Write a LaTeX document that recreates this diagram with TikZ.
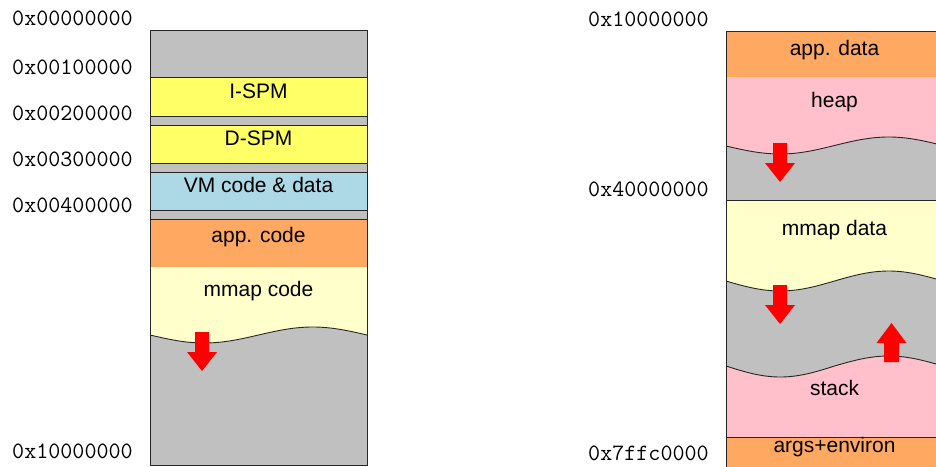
\documentclass[tikz,border=0pt]{standalone}
\usepackage{fontspec}
\setmainfont{Liberation Sans}
\usetikzlibrary{positioning}

\definecolor{freegray}{HTML}{C0C0C0}
\definecolor{spmyellow}{HTML}{FFFF66}
\definecolor{vmblue}{HTML}{ADD8E6}
\definecolor{apporange}{HTML}{FFA862}
\definecolor{mmapyellow}{HTML}{FFFFCC}
\definecolor{heappink}{HTML}{FFC0CB}

\tikzset{
  grow down/.pic = {\fill[red] (-7,0) -- (7,0) -- (7,20) -- (15,20) -- (0,39) -- (-15,20) -- (-7,20) -- cycle;},
  grow up/.pic = {\fill[red] (-7.5,0) -- (7.5,0) -- (7.5,-19) -- (15,-19) -- (0,-39) -- (-15,-19) -- (-7.5,-19) -- cycle;}
}

\begin{document}
\begin{tikzpicture}[x=1pt, y=-1pt,
    band/.style = {draw=black!85, line width=0.9pt},
    lbl/.style = {anchor=base, inner sep=0pt, font=\fontsize{21}{25}\selectfont},
    addr/.style = {anchor=base west, inner sep=0pt, font=\ttfamily\fontsize{23.4}{27}\selectfont}]
    \useasboundingbox (0,0) rectangle (936,466);
    \clip (0,0) rectangle (936,466);

    % code side
    \fill[freegray] (150,30) rectangle (367,465);
    \draw[band, fill=spmyellow] (150,77) rectangle (367,116);
    \draw[band, fill=spmyellow] (150,125) rectangle (367,163);
    \draw[band, fill=vmblue] (150,172) rectangle (367,210);
    \draw[band, fill=apporange] (150,219) rectangle (367,267);
    \fill[mmapyellow] (150,267) -- (150,335) sin (204.25,343) cos (258.5,335) sin (312.75,327) cos (367,335) -- (367,267) -- cycle;
    \draw[band] (150,335) sin (204.25,343) cos (258.5,335) sin (312.75,327) cos (367,335);
    \draw[band] (150,30) rectangle (367,465);
    \pic (codegrow) at (202,332) {grow down};

    \node[lbl] (ispm) at (258.5,98.3) {I-SPM};
    \node[lbl] (dspm) at (258.5,145) {D-SPM};
    \node[lbl] (vm) at (258.5,192.7) {VM code \& data};
    \node[lbl] (appcode) at (258.5,242.7) {app. code};
    \node[lbl] (mmapcode) at (258.5,296) {mmap code};

    \node[addr] (a0) at (12,25) {0x00000000};
    \node[addr] (a1) at (12,74) {0x00100000};
    \node[addr] (a2) at (12,120.7) {0x00200000};
    \node[addr] (a3) at (12,166.7) {0x00300000};
    \node[addr] (a4) at (12,212) {0x00400000};
    \node[addr] (a5) at (12,458) {0x10000000};

    % data side
    \fill[freegray] (726,31) rectangle (943,470);
    \draw[band, fill=apporange] (726,31) rectangle (943,77);
    \fill[heappink] (726,77) -- (726,146) sin (780.25,154) cos (834.5,145.5) sin (888.75,137) cos (943,145.5) -- (943,77) -- cycle;
    \draw[band] (726,146) sin (780.25,154) cos (834.5,145.5) sin (888.75,137) cos (943,145.5);
    \fill[mmapyellow] (726,200) -- (726,281) sin (780.25,291) cos (834.5,281) sin (888.75,271) cos (943,281) -- (943,200) -- cycle;
    \draw[band] (726,200) -- (943,200);
    \draw[band] (726,281) sin (780.25,291) cos (834.5,281) sin (888.75,271) cos (943,281);
    \fill[heappink] (726,437) -- (726,366) sin (780.25,377) cos (834.5,366) sin (888.75,356) cos (943,366) -- (943,437) -- cycle;
    \draw[band] (726,366) sin (780.25,377) cos (834.5,366) sin (888.75,356) cos (943,366);
    \draw[band, fill=apporange] (726,437) rectangle (943,470);
    \draw[band] (726,470) -- (726,31) -- (943,31);
    \pic (heapgrow) at (780,143) {grow down};
    \pic (mmapgrow) at (780,285) {grow down};
    \pic (stackgrow) at (891.5,362) {grow up};

    \node[lbl] (appdata) at (834.5,55.3) {app. data};
    \node[lbl] (heap) at (834.5,107.3) {heap};
    \node[lbl] (mmapdata) at (834.5,235) {mmap data};
    \node[lbl] (stack) at (834.5,395.7) {stack};
    \node[lbl] (args) at (834.5,452.7) {args+environ};

    \node[addr] (b0) at (588,26) {0x10000000};
    \node[addr] (b1) at (588,196) {0x40000000};
    \node[addr] (b2) at (588,460.5) {0x7ffc0000};
\end{tikzpicture}
\end{document}
